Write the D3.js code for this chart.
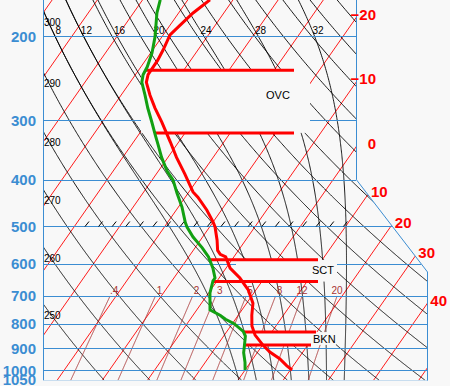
<!DOCTYPE html>
<html>
<head>
<meta charset="utf-8">
<script src="https://cdn.jsdelivr.net/npm/d3@7"></script>
<style>
  body { margin: 0; background: #f8f8f8; }
  text { font-family: "Liberation Sans", Arial, sans-serif; }
</style>
</head>
<body>
<div id="chart"></div>
<script>
// SOUNDING DATA (hPa, degC)
var tempP = [168, 179, 190, 199, 214, 225, 241, 250, 266, 283, 303, 333, 359, 388, 424, 435, 463, 491, 502, 535, 562, 573, 580, 612, 642, 680, 725, 768, 809, 845, 887, 917, 947, 979, 1000];
var tempT = [-55.1, -56.8, -57.8, -58.5, -57.7, -57.3, -57.2, -56.4, -53.6, -50.5, -46.8, -41.9, -38.1, -33.8, -29.1, -27.2, -23.2, -19.9, -18.8, -16.3, -14.6, -13.4, -11.8, -9.1, -5.4, -1.7, 1.4, 3.0, 4.7, 6.8, 10.1, 12.7, 15.9, 18.5, 20.4];
var dewP = [168, 179, 201, 217, 232, 241, 250, 266, 283, 303, 322, 338, 359, 384, 400, 426, 456, 491, 502, 527, 555, 580, 612, 642, 651, 690, 748, 769, 783, 800, 830, 849, 890, 920, 964, 1000];
var dewT = [-66.1, -64.8, -61.5, -59.7, -58.6, -58.3, -57.4, -54.7, -52.1, -49.0, -46.3, -44.1, -41.4, -38.0, -35.4, -32.5, -29.2, -26.1, -25.0, -22.1, -18.4, -15.6, -12.9, -10.9, -10.9, -9.7, -7.1, -3.9, -2.2, 0.4, 3.6, 4.8, 6.1, 7.0, 8.8, 10.0];

// CLOUD LAYERS
var cloudLabels = ["OVC", "SCT", "BKN"];
var cloudTopP = [236, 588, 833];
var cloudBaseP = [319, 653, 886];

// BACKGROUND LINES
var pressureLevels = [200, 300, 400, 500, 600, 700, 800, 900, 1000, 1050];
var isotherms = d3.range(-100, 60, 10);
var isothermLabels = [-20, -10, 0, 10, 20, 30, 40];
var dryAdiabats = d3.range(250, 460, 10);
var dryLabels = [250, 260, 270, 280, 290, 300];
var moistAdiabats = [8, 12, 16, 20, 24, 28, 32];
var mixingRatios = [0.4, 1, 2, 3, 5, 8, 12, 20];
var mixingLabels = [".4", "1", "2", "3", "5", "8", "12", "20"];

// LAYOUT
var width = 450, height = 386;
var xLeft = 43, xMid = 356, xRight = 427;
var blue = "#3b8dd2", red = "#ff0000", green = "#12a012", brown = "#a83434";
var cloudLayout = [
  {topEnd: 294, baseEnd: 294, boxL: 141, boxR: 310, textX: 266, textY: 99},
  {topEnd: 318, baseEnd: 318, boxL: 236, boxR: 337, textX: 312, textY: 274},
  {topEnd: 316, baseEnd: 311, boxL: 246, boxR: 336, textX: 313, textY: 343}
];

svg = d3.select("#chart")
  .append("svg")
    .attr("width", width)
    .attr("height", height)
    .style("background", "#f8f8f8");

// SCALES: log-p vertical, skewed temperature horizontal
y = d3.scaleLog().domain([200, 1000]).range([36, 370]);
tx = d3.scaleLinear().domain([0, 10]).range([xMid, xMid + 45.2]);
skew = 0.70;
yRef = 147;
function X(T, p) { return tx(T) + skew * (yRef - y(p)); }

yBottom = y(1050);
yMid = y(400);
yCorner = 272;
function rightEdge(yy) {
  if (yy <= yMid) return xMid;
  if (yy <= yCorner) return xMid + (yy - yMid) * (xRight - xMid) / (yCorner - yMid);
  return xRight;
}

// CLIP
outline = [[xLeft, 0], [xMid, 0], [xMid, yMid], [xRight, yCorner], [xRight, yBottom], [xLeft, yBottom]];
svg.append("clipPath").attr("id", "plot")
  .append("polygon").attr("points", outline.map(function(d) { return d.join(","); }).join(" "));

grid = svg.append("g").attr("clip-path", "url(#plot)");

// THERMO HELPERS
function esat(Tc) { return 6.112 * Math.exp(17.67 * Tc / (Tc + 243.5)); }
function thetaE(Tk, p) {
  var es = esat(Tk - 273.15), r = 622 * es / (p - es);
  return Tk * Math.pow(1000 / p, 0.2854 * (1 - 0.00028 * r)) * Math.exp((3.376 / Tk - 0.00254) * r * (1 + 0.00081 * r));
}
function moistT(the, p) {
  var lo = 150, hi = 340;
  for (var i = 0; i < 50; i++) {
    var mid = (lo + hi) / 2;
    if (thetaE(mid, p) > the) hi = mid; else lo = mid;
  }
  return (lo + hi) / 2 - 273.15;
}
function mixingTd(w, p) {
  var e = w * p / (622 + w), l = Math.log(e / 6.112);
  return 243.5 * l / (17.67 - l);
}

pSteps = [];
for (var pp = 1050; pp >= 150; pp -= 2) pSteps.push(pp);

line = d3.line().x(function(d) { return d[0]; }).y(function(d) { return d[1]; });

// ISOTHERMS
grid.selectAll(".isotherm")
  .data(isotherms)
  .enter()
  .append("path")
    .attr("d", function(T) { return line([[X(T, 1050), yBottom], [X(T, 150), y(150)]]); })
    .attr("stroke", red).attr("fill", "none").attr("stroke-width", 0.9);

// DRY ADIABATS
grid.selectAll(".dry")
  .data(dryAdiabats)
  .enter()
  .append("path")
    .attr("d", function(th) {
      return line(pSteps.map(function(p) { return [X(th * Math.pow(p / 1000, 0.286) - 273.15, p), y(p)]; }));
    })
    .attr("stroke", "#000").attr("fill", "none").attr("stroke-width", 0.9);

// MOIST ADIABATS
moistLines = moistAdiabats.map(function(tw) {
  var the = thetaE(tw + 273.15, 1000);
  return {tw: tw, the: the, pts: pSteps.map(function(p) { return [X(moistT(the, p), p), y(p)]; })};
});
grid.selectAll(".moist")
  .data(moistLines)
  .enter()
  .append("path")
    .attr("d", function(d) { return line(d.pts); })
    .attr("stroke", "#000").attr("fill", "none").attr("stroke-width", 0.9);

// MIXING RATIO LINES
grid.selectAll(".mix")
  .data(mixingRatios)
  .enter()
  .append("path")
    .attr("d", function(w) {
      return line(pSteps.filter(function(p) { return p >= 700; }).map(function(p) { return [X(mixingTd(w, p), p), y(p)]; }));
    })
    .attr("stroke", brown).attr("fill", "none").attr("stroke-width", 0.9);

// ISOBARS
grid.selectAll(".isobar")
  .data(pressureLevels)
  .enter()
  .append("line")
    .attr("x1", xLeft).attr("x2", function(p) { return rightEdge(Math.round(y(p))); })
    .attr("y1", function(p) { return Math.round(y(p)) + 0.5; })
    .attr("y2", function(p) { return Math.round(y(p)) + 0.5; })
    .attr("stroke", blue)
    .style("shape-rendering", "crispEdges");

// 500 HPA TICKS
y500 = Math.round(y(500)) + 0.5;
grid.selectAll(".hatch")
  .data(d3.range(20))
  .enter()
  .append("path")
    .attr("d", function(i) { var hx = 87 + i * 13.6; return line([[hx - 2, y500], [hx + 2, y500 - 5]]); })
    .attr("stroke", "#000").attr("fill", "none");

// BORDER
svg.append("path")
  .attr("d", line([[xLeft + 0.5, 0], [xLeft + 0.5, yBottom]]) + line([[xMid + 0.5, 0], [xMid + 0.5, yMid], [xRight + 0.5, yCorner], [xRight + 0.5, yBottom + 0.5]]))
  .attr("stroke", blue).attr("fill", "none");

// CLOUD LAYERS
dewAt = function(p) {
  for (var i = 0; i < dewP.length - 1; i++) {
    if (p >= dewP[i] && p <= dewP[i + 1]) {
      var f = (Math.log(p) - Math.log(dewP[i])) / (Math.log(dewP[i + 1]) - Math.log(dewP[i]));
      return X(dewT[i] + f * (dewT[i + 1] - dewT[i]), p);
    }
  }
  return xLeft;
};
cloudLabels.forEach(function(lab, i) {
  var L = cloudLayout[i], yt = y(cloudTopP[i]), yb = y(cloudBaseP[i]);
  svg.append("rect")
    .attr("x", L.boxL).attr("y", yt).attr("width", L.boxR - L.boxL).attr("height", yb - yt)
    .attr("fill", "#f8f8f8");
  svg.append("line")
    .attr("x1", dewAt(cloudTopP[i])).attr("x2", L.topEnd).attr("y1", yt).attr("y2", yt)
    .attr("stroke", red).attr("stroke-width", 3);
  svg.append("line")
    .attr("x1", dewAt(cloudBaseP[i])).attr("x2", L.baseEnd).attr("y1", yb).attr("y2", yb)
    .attr("stroke", red).attr("stroke-width", 3);
  svg.append("text")
    .text(lab).attr("x", L.textX).attr("y", L.textY)
    .attr("font-size", "11px").attr("fill", "#000");
});

// PRESSURE LABELS
svg.selectAll(".plabel")
  .data(pressureLevels)
  .enter()
  .append("text")
    .text(function(p) { return p; })
    .attr("x", 36)
    .attr("y", function(p) { return Math.min(y(p) + 5.5, height - 1.5); })
    .attr("text-anchor", "end")
    .attr("font-size", "15px").attr("font-weight", "bold")
    .attr("fill", blue);

// DRY ADIABAT LABELS
dryLabels.forEach(function(th) {
  var yy = 0;
  for (var p = 150; p <= 1050; p += 0.5) {
    if (X(th * Math.pow(p / 1000, 0.286) - 273.15, p) >= xLeft) { yy = y(p); break; }
  }
  svg.append("text").text(th)
    .attr("x", xLeft + 1).attr("y", yy + 15)
    .attr("font-size", "10px").attr("font-family", "DejaVu Sans Mono").attr("fill", "#000");
});

// MOIST ADIABAT LABELS
moistLines.forEach(function(d) {
  var p = y.invert(30);
  svg.append("text").text(d.tw)
    .attr("x", X(moistT(d.the, p), p) + 6).attr("y", 34)
    .attr("text-anchor", "middle")
    .attr("font-size", "10px").attr("fill", "#000");
});

// MIXING RATIO LABELS
mixingRatios.forEach(function(w, i) {
  var lab = mixingLabels[i];
  svg.append("text").text(lab)
    .attr("x", X(mixingTd(w, 700), 700) + (lab.length > 1 && lab[0] != "." ? 0 : 4))
    .attr("y", y(700) - 2)
    .attr("text-anchor", "middle")
    .attr("font-size", "10px").attr("fill", brown);
});

// ISOTHERM LABELS ON RIGHT EDGE
isothermLabels.forEach(function(T) {
  for (var yy = 0; yy <= yBottom; yy += 0.5) {
    if (X(T, y.invert(yy)) <= rightEdge(yy)) break;
  }
  svg.append("text").text(T < 0 ? "\u2212" + (-T) : T)
    .attr("x", rightEdge(yy) + 20).attr("y", yy + 1.5)
    .attr("text-anchor", "end")
    .attr("font-size", "15px").attr("font-weight", "bold")
    .attr("fill", red);
});

// SOUNDING
tempLine = d3.line().x(function(d, i) { return X(tempT[i], d); }).y(function(d) { return y(d); });
dewLine = d3.line().x(function(d, i) { return X(dewT[i], d); }).y(function(d) { return y(d); });

svg.append("path").attr("d", dewLine(dewP))
  .attr("stroke", green).attr("stroke-width", 3).attr("fill", "none");
svg.append("path").attr("d", tempLine(tempP))
  .attr("stroke", red).attr("stroke-width", 3).attr("fill", "none");
</script>
</body>
</html>
